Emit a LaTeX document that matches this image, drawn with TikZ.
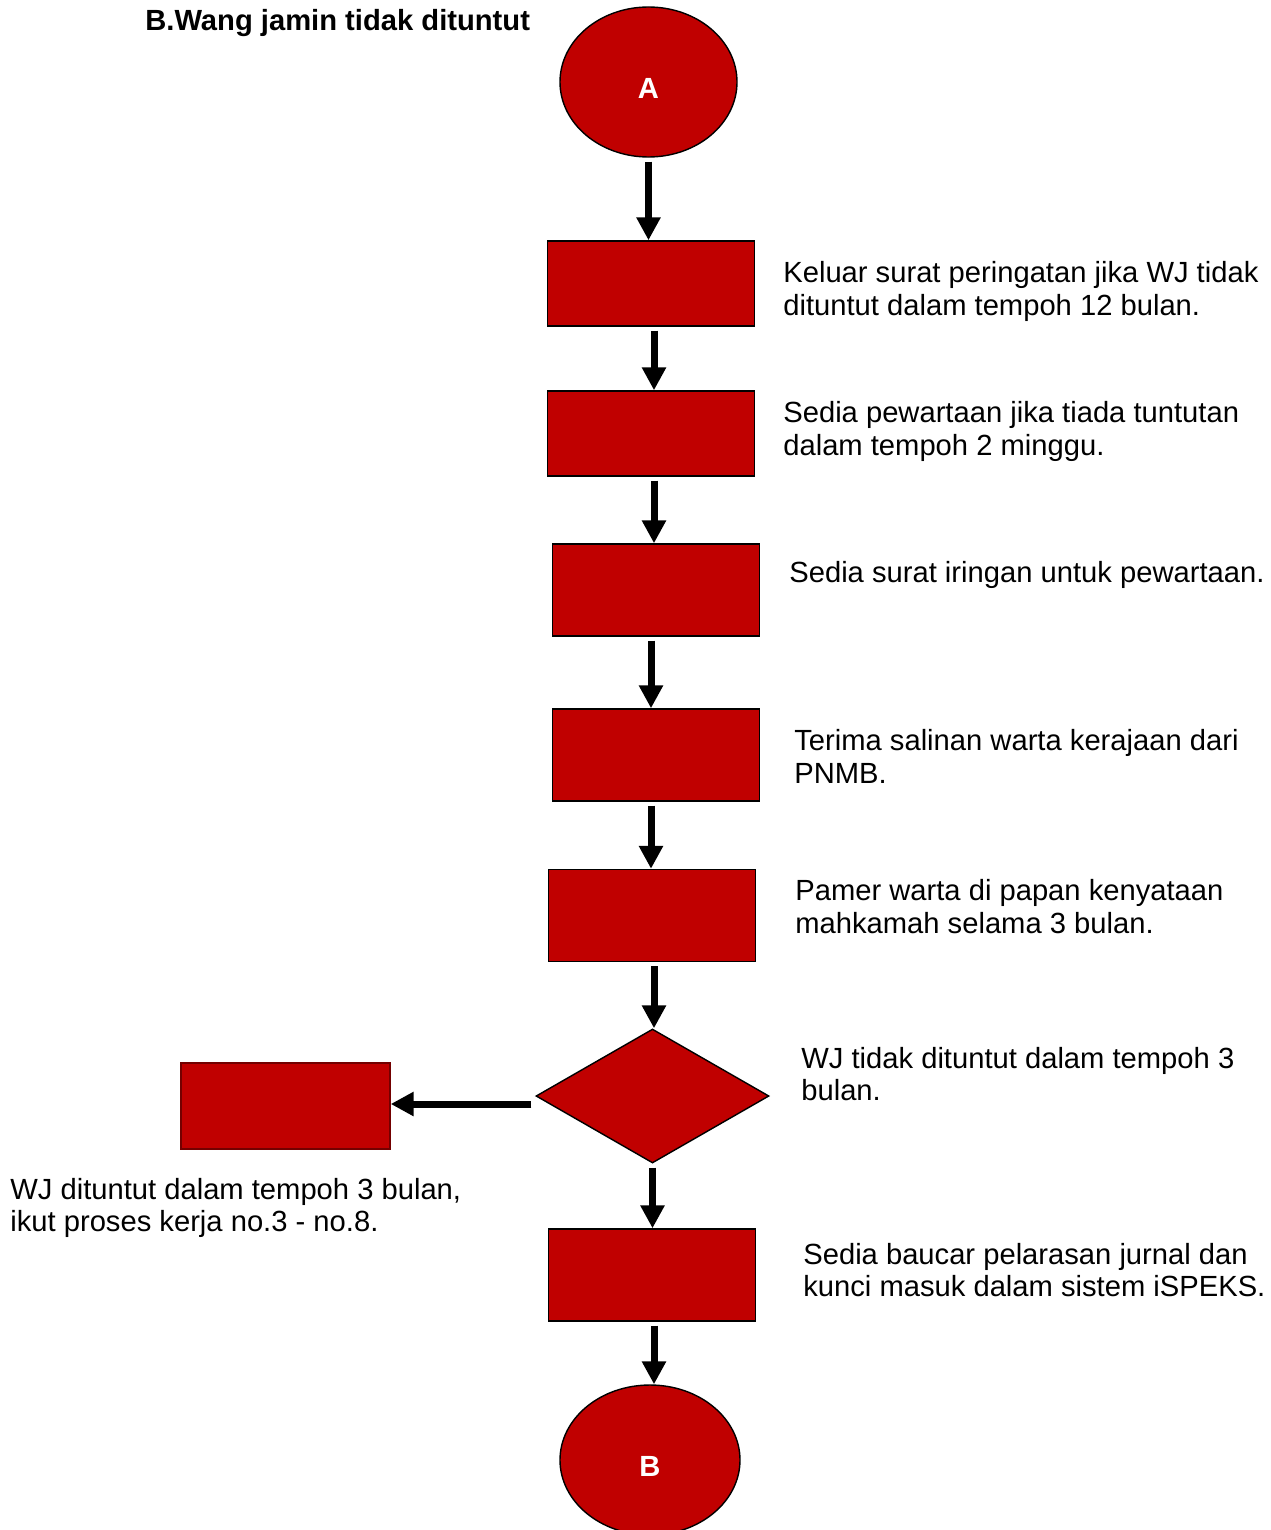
\documentclass[tikz,border=0pt]{standalone}
\usepackage{fontspec}
\setmainfont{Liberation Sans}
\usetikzlibrary{shapes.geometric, arrows.meta, positioning}
\definecolor{jamred}{HTML}{C00000}

\begin{document}
\begin{tikzpicture}[
    term/.style={ellipse, draw, thick, fill=jamred, minimum width=3.54cm, minimum height=3cm, text=white, font=\bfseries\fontsize{16.6}{18.7}\selectfont},
    rect/.style={rectangle, draw, thick, fill=jamred, minimum width=4.14cm, minimum height=1.84cm},
    dec/.style={diamond, draw, thick, fill=jamred, minimum width=4.66cm, minimum height=2.68cm, inner sep=0pt},
    desc/.style={anchor=west, align=left, inner sep=0pt, font=\fontsize{16.6}{18.7}\selectfont},
    conn/.style={-{Triangle[length=0.46cm, width=0.46cm]}, line width=0.14cm, shorten <=0.08cm}
]

% White Background
\path [fill=white] (0, 0) rectangle (25.4, -30.6);
\useasboundingbox (0, 0) rectangle (25.4, -30.6);

% ==================== TITLE ====================

\node[desc, font=\bfseries\fontsize{16.6}{18.7}\selectfont] (title) at (2.9, -0.47) {B.Wang jamin tidak dituntut};

% ==================== MAIN FLOW ====================

\node[term] (startA) at (12.97, -1.64) {\raisebox{-0.33cm}[0pt][0pt]{A}};

\node[rect, minimum height=1.7cm] (keluar) at (13.02, -5.67) {};
\draw[conn] (startA.south) -- (startA.south |- keluar.north);
\node[desc] (t_keluar) at (15.66, -5.83) {Keluar surat peringatan jika WJ tidak\\dituntut dalam tempoh 12 bulan.};

\node[rect, minimum height=1.7cm] (pewartaan) at (13.02, -8.67) {};
\draw[conn] ([xshift=0.06cm]keluar.south) -- ([xshift=0.06cm]keluar.south |- pewartaan.north);
\node[desc] (t_pewartaan) at (15.66, -8.63) {Sedia pewartaan jika tiada tuntutan\\dalam tempoh 2 minggu.};

\node[rect] (iringan) at (13.12, -11.8) {};
\draw[conn] ([xshift=0.06cm]pewartaan.south) -- ([xshift=0.06cm]pewartaan.south |- iringan.north);
\node[desc] (t_iringan) at (15.78, -11.5) {Sedia surat iringan untuk pewartaan.};

\node[rect] (terima) at (13.12, -15.1) {};
\draw[conn] ([xshift=-0.1cm]iringan.south) -- ([xshift=-0.1cm]iringan.south |- terima.north);
\node[desc] (t_terima) at (15.88, -15.13) {Terima salinan warta kerajaan dari\\PNMB.};

\node[rect] (pamer) at (13.04, -18.31) {};
\draw[conn] ([xshift=-0.1cm]terima.south) -- ([xshift=-0.1cm]terima.south |- pamer.north);
\node[desc] (t_pamer) at (15.9, -18.13) {Pamer warta di papan kenyataan\\mahkamah selama 3 bulan.};

% Decision
\node[dec] (semak) at (13.05, -21.92) {};
\draw[conn] ([xshift=0.04cm]pamer.south) -- ([xshift=0.04cm]pamer.south |- semak.north);
\node[desc] (t_semak) at (16.02, -21.48) {WJ tidak dituntut dalam tempoh 3\\bulan.};

% Claimed within 3 months (left side)
\node[rect, draw=jamred!60!black, minimum width=4.18cm, minimum height=1.72cm] (tuntut) at (5.71, -22.12) {};
\draw[conn] ([yshift=-0.16cm]semak.west) -- ([yshift=-0.16cm]semak.west -| tuntut.east);
\node[desc] (t_tuntut) at (0.2, -24.16) {WJ dituntut dalam tempoh 3 bulan,\\ikut proses kerja no.3 - no.8.};

\node[rect] (baucar) at (13.04, -25.5) {};
\draw[conn] (semak.south) -- (semak.south |- baucar.north);
\node[desc] (t_baucar) at (16.06, -25.4) {Sedia baucar pelarasan jurnal dan\\kunci masuk dalam sistem iSPEKS.};

\node[term, minimum width=3.6cm] (endB) at (13.0, -29.2) {\raisebox{-0.33cm}[0pt][0pt]{B}};
\draw[conn] ([xshift=0.04cm]baucar.south) -- ([xshift=0.04cm]baucar.south |- endB.north);

\end{tikzpicture}
\end{document}
